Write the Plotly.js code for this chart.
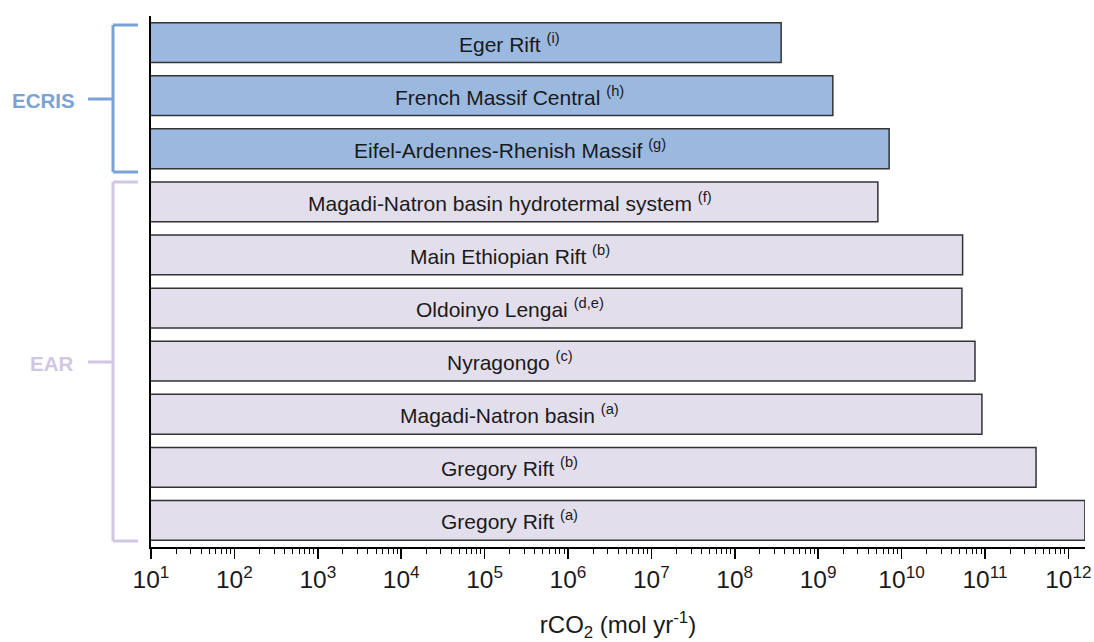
<!DOCTYPE html>
<html>
<head>
<meta charset="utf-8">
<script src="https://cdn.plot.ly/plotly-3.0.1.min.js"></script>
<style>
html,body{margin:0;padding:0;background:#fff;}
#chart{width:1094px;height:642px;}
</style>
</head>
<body>
<div id="chart"></div>
<script>
// ---- data ----
var ecrisNames = ["Eger Rift", "French Massif Central", "Eifel-Ardennes-Rhenish Massif"];
var ecrisRefs  = ["(i)", "(h)", "(g)"];
var ecrisValues = [3.6e8, 1.5e9, 7.1e9];

var earNames = ["Magadi-Natron basin hydrotermal system", "Main Ethiopian Rift", "Oldoinyo Lengai",
                "Nyragongo", "Magadi-Natron basin", "Gregory Rift", "Gregory Rift"];
var earRefs  = ["(f)", "(b)", "(d,e)", "(c)", "(a)", "(b)", "(a)"];
var earValues = [5.2e9, 5.4e10, 5.3e10, 7.6e10, 9.2e10, 4.1e11, 1.58e12];

var tickExponents = [1,2,3,4,5,6,7,8,9,10,11,12];
var groupLabels = ["ECRIS", "EAR"];

// ---- build ----
function lab(n, r){ return n + " <sup>" + r + "</sup>"; }
var ecrisCats = ecrisNames.map(function(n,i){ return lab(n, ecrisRefs[i]); });
var earCats = earNames.map(function(n,i){ return lab(n, earRefs[i]); });
var allCats = ecrisCats.concat(earCats);

var tickvals = tickExponents.map(function(e){ return Math.pow(10, e); });
var ticktext = tickExponents.map(function(e){ return "10<sup>" + e + "</sup>"; });
var minorVals = [];
tickExponents.forEach(function(e){
  for (var k = 2; k <= 9; k++) minorVals.push(k * Math.pow(10, e));
});

var FONT = "Liberation Sans, Arial, Helvetica, sans-serif";
var blueFill = "#9bb9df", lavFill = "#e2deec", edge = "#333333";
var blueLine = "#7aa2d6", lavLine = "#d0c7e2";

var traces = [
  {type:"bar", orientation:"h", y: ecrisCats, x: ecrisValues, name:"ECRIS",
   marker:{color: blueFill, line:{color: edge, width:1.5}}, hoverinfo:"x+y"},
  {type:"bar", orientation:"h", y: earCats, x: earValues, name:"EAR",
   marker:{color: lavFill, line:{color: edge, width:1.5}}, hoverinfo:"x+y"}
];

var annotations = allCats.map(function(c){
  return {xref:"paper", x:0.384, yref:"y", y:c, text:c, showarrow:false,
          xanchor:"center", yanchor:"middle",
          font:{family:FONT, size:21, color:"#1a1a1a"}};
});
annotations.push({xref:"paper", yref:"paper", x:-0.1146, y:0.84, text:"<b>" + groupLabels[0] + "</b>",
  showarrow:false, xanchor:"center", yanchor:"middle", font:{family:FONT, size:20.5, color:blueLine}});
annotations.push({xref:"paper", yref:"paper", x:-0.107, y:0.346, text:"<b>" + groupLabels[1] + "</b>",
  showarrow:false, xanchor:"center", yanchor:"middle", font:{family:FONT, size:20.5, color:lavLine}});

// plot area: x 151..1085, y 16..547 (height 531)
function px(xp){ return (xp - 151) / 934; }
function py(yp){ return (547 - yp) / 531; }
var shapes = [];
function bracket(top, bot, mid, col){
  var L = {color: col, width: 3};
  shapes.push({type:"line", xref:"paper", yref:"paper", x0:px(113), x1:px(113), y0:py(top), y1:py(bot), line:L});
  shapes.push({type:"line", xref:"paper", yref:"paper", x0:px(113), x1:px(138), y0:py(top), y1:py(top), line:L});
  shapes.push({type:"line", xref:"paper", yref:"paper", x0:px(113), x1:px(138), y0:py(bot), y1:py(bot), line:L});
  shapes.push({type:"line", xref:"paper", yref:"paper", x0:px(88), x1:px(113), y0:py(mid), y1:py(mid), line:L});
}
bracket(25, 172, 99, blueLine);
bracket(182, 541, 362, lavLine);

var layout = {
  width:1094, height:642,
  margin:{l:151, r:9, t:16, b:95},
  paper_bgcolor:"#fff", plot_bgcolor:"#fff",
  showlegend:false,
  barmode:"overlay",
  bargap:0.25,
  font:{family:FONT, color:"#1a1a1a"},
  xaxis:{type:"log", range:[1, 12.2], tickmode:"array", tickvals:tickvals, ticktext:ticktext,
         ticks:"outside", ticklen:10, tickwidth:1.5, tickcolor:"#000",
         minor:{tickmode:"array", tickvals:minorVals, ticks:"outside", ticklen:5, tickwidth:1, tickcolor:"#000"},
         showline:true, linecolor:"#000", linewidth:2, showgrid:false, zeroline:false,
         tickfont:{family:FONT, size:24.5, color:"#1a1a1a"},
         title:{text:"rCO<sub>2</sub> (mol yr<sup>-1</sup>)", font:{family:FONT, size:24, color:"#1a1a1a"}, standoff:24}},
  yaxis:{type:"category", categoryorder:"array", categoryarray:allCats, autorange:"reversed",
         showticklabels:false, ticks:"", showline:true, linecolor:"#000", linewidth:2,
         showgrid:false, zeroline:false},
  annotations: annotations,
  shapes: shapes
};

Plotly.newPlot("chart", traces, layout, {displayModeBar:false, staticPlot:true});
</script>
</body>
</html>
